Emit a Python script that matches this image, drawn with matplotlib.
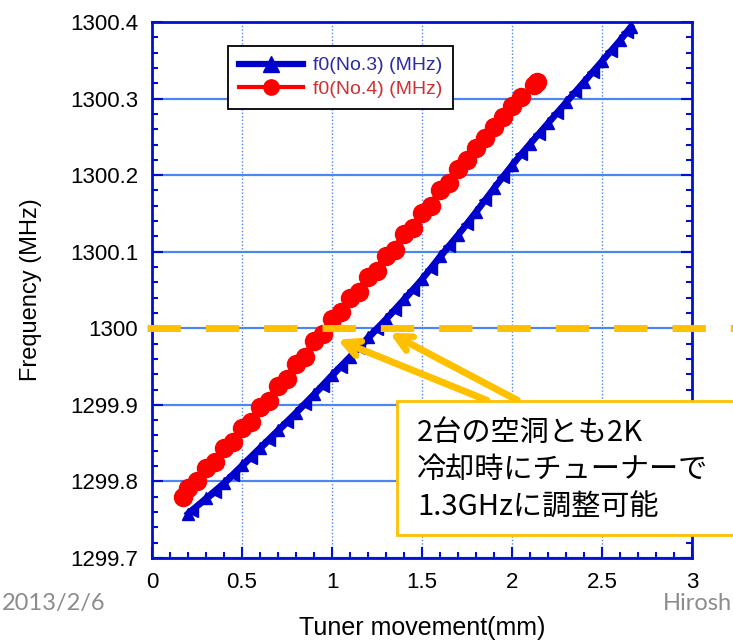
import numpy as np
import matplotlib
matplotlib.use("Agg")
import matplotlib.pyplot as plt
from matplotlib.ticker import MultipleLocator, FormatStrFormatter
from matplotlib.patches import Rectangle

# ---- data ----
# cavity No.3, tuner moved one way and back
no3_x_up = [0.20, 0.30, 0.40, 0.50, 0.60, 0.70, 0.80, 0.90, 1.00, 1.10, 1.20, 1.30, 1.40,
            1.50, 1.60, 1.70, 1.80, 1.90, 2.00, 2.10, 2.20, 2.30, 2.40, 2.50, 2.60, 2.66]
no3_f_up = [1299.758, 1299.778, 1299.798, 1299.821, 1299.844, 1299.867, 1299.890, 1299.914,
            1299.939, 1299.963, 1299.988, 1300.012, 1300.038, 1300.064, 1300.094, 1300.122,
            1300.152, 1300.183, 1300.213, 1300.241, 1300.268, 1300.295, 1300.322, 1300.349,
            1300.376, 1300.394]
no3_x_dn = [2.64, 2.55, 2.45, 2.35, 2.25, 2.15, 2.05, 1.95, 1.85, 1.75, 1.65, 1.55, 1.45,
            1.35, 1.25, 1.15, 1.05, 0.95, 0.85, 0.75, 0.65, 0.55, 0.45, 0.35, 0.22]
no3_f_dn = [1300.387, 1300.362, 1300.335, 1300.308, 1300.281, 1300.254, 1300.227, 1300.198,
            1300.167, 1300.136, 1300.107, 1300.078, 1300.050, 1300.024, 1299.999, 1299.974,
            1299.950, 1299.925, 1299.901, 1299.877, 1299.854, 1299.831, 1299.808, 1299.786,
            1299.762]

# cavity No.4
no4_x_up = [0.17, 0.25, 0.35, 0.45, 0.55, 0.65, 0.75, 0.85, 0.95, 1.05, 1.15, 1.25, 1.35,
            1.45, 1.55, 1.65, 1.75, 1.85, 1.95, 2.05, 2.14]
no4_f_up = [1299.780, 1299.800, 1299.826, 1299.852, 1299.878, 1299.905, 1299.934, 1299.963,
            1299.992, 1300.021, 1300.048, 1300.075, 1300.102, 1300.131, 1300.160, 1300.190,
            1300.220, 1300.248, 1300.276, 1300.302, 1300.322]
no4_x_dn = [2.12, 2.00, 1.90, 1.80, 1.70, 1.60, 1.50, 1.40, 1.30, 1.20, 1.10, 1.00, 0.90,
            0.80, 0.70, 0.60, 0.50, 0.40, 0.30, 0.20]
no4_f_dn = [1300.318, 1300.290, 1300.263, 1300.236, 1300.208, 1300.180, 1300.151, 1300.123,
            1300.095, 1300.067, 1300.040, 1300.012, 1299.983, 1299.954, 1299.925, 1299.897,
            1299.870, 1299.844, 1299.817, 1299.792]

target_f = 1300.0
labels = ["f0(No.3) (MHz)", "f0(No.4) (MHz)"]
note_lines = ["2台の空洞とも2K", "冷却時にチューナーで", "1.3GHzに調整可能"]
# arrows (tail -> tip) in data units
arrow_tips = [(1.03, 1299.985), (1.32, 1299.994)]
arrow_tails = [(1.86, 1299.906), (2.03, 1299.906)]

blue = "#0000cc"
red = "#ff0000"
orange = "#ffc000"
axis_blue = "#0010d0"

# ---- figure ----
fig = plt.figure(figsize=(7.33, 6.41), dpi=100)
ax = fig.add_axes([152 / 733, 83 / 641, 540 / 733, 536 / 641])

ax.plot(no3_x_up, no3_f_up, "-", color=blue, lw=4.5, marker="^", ms=8, mec=blue, zorder=3,
        label=labels[0])
ax.plot(no3_x_dn, no3_f_dn, "-", color=blue, lw=4.5, marker="<", ms=8, mec=blue, zorder=3)
ax.plot(no4_x_up, no4_f_up, "-", color=red, lw=3, marker="o", ms=13, mec=red, zorder=4,
        label=labels[1])
ax.plot(no4_x_dn, no4_f_dn, "-", color=red, lw=3, marker="o", ms=13, mec=red, zorder=4)

ax.set_xlim(0, 3)
ax.set_ylim(1299.7, 1300.4)
ax.xaxis.set_major_locator(MultipleLocator(0.5))
ax.xaxis.set_minor_locator(MultipleLocator(0.1))
ax.yaxis.set_major_locator(MultipleLocator(0.1))
ax.yaxis.set_minor_locator(MultipleLocator(0.02))
ax.xaxis.set_major_formatter(FormatStrFormatter("%g"))
ax.yaxis.set_major_formatter(FormatStrFormatter("%g"))

ax.grid(axis="y", which="major", color="#4d86f0", lw=1.6, ls="-", zorder=1)
ax.grid(axis="x", which="major", color="#4d86f0", lw=1.0, ls=(0, (1, 1.5)), zorder=1)
ax.set_axisbelow(True)

for s in ax.spines.values():
    s.set_color(axis_blue)
    s.set_linewidth(2)
ax.tick_params(which="both", direction="in", color=axis_blue, width=1.5,
               right=True, top=False, labelsize=16, pad=10)
ax.tick_params(which="major", length=8)
ax.tick_params(which="minor", length=4)
for lab in ax.get_xticklabels() + ax.get_yticklabels():
    lab.set_family("Liberation Sans")

ax.set_xlabel("Tuner movement(mm)", family="Liberation Sans", fontsize=18, labelpad=17)
ax.set_ylabel("Frequency (MHz)", family="Liberation Sans", fontsize=17, labelpad=20)

leg = ax.legend(loc="upper left", bbox_to_anchor=(0.141, 0.955), borderaxespad=0,
                handlelength=3.3, fancybox=False, framealpha=1,
                edgecolor="black", borderpad=0.55, labelspacing=0.3, handletextpad=0.5,
                prop={"family": "Liberation Sans", "size": 14})
leg.get_frame().set_linewidth(1.3)
for h in leg.legend_handles:
    h.set_markersize(11)
leg.get_texts()[0].set_color("#2b2ba8")
leg.get_texts()[1].set_color("#d03030")

# target frequency line, runs past the frame
ax.axhline(target_f, xmin=-0.01, xmax=1.1, color=orange, lw=5, ls=(0, (4.8, 3.6)),
           clip_on=False, zorder=6)

for tail, tip in zip(arrow_tails, arrow_tips):
    ax.annotate("", xy=tip, xytext=tail,
                arrowprops=dict(arrowstyle="->,head_length=1.1,head_width=0.55",
                                color=orange, lw=5, shrinkA=0, shrinkB=0),
                zorder=7)

# note box (cut off by the right edge)
fig.patches.append(Rectangle((397 / 733, 106 / 641), 0.6, 134 / 641,
                             transform=fig.transFigure, facecolor="white",
                             edgecolor=orange, lw=2, zorder=8))
for i, line in enumerate(note_lines):
    fig.text(417 / 733, (641 - 433 - 37.5 * i) / 641, line, fontsize=21,
             family=["Noto Sans CJK JP", "DejaVu Sans"], va="center", ha="left",
             color="black", zorder=9)

fig.text(0.002, 0.059, "2013/2/6", fontsize=17, family="Lato", color="#8c8c8c",
         va="center", ha="left")
fig.text(0.998, 0.059, "Hirosh", fontsize=17, family="Lato", color="#8c8c8c",
         va="center", ha="right")

fig.savefig("out.png", dpi=100)
